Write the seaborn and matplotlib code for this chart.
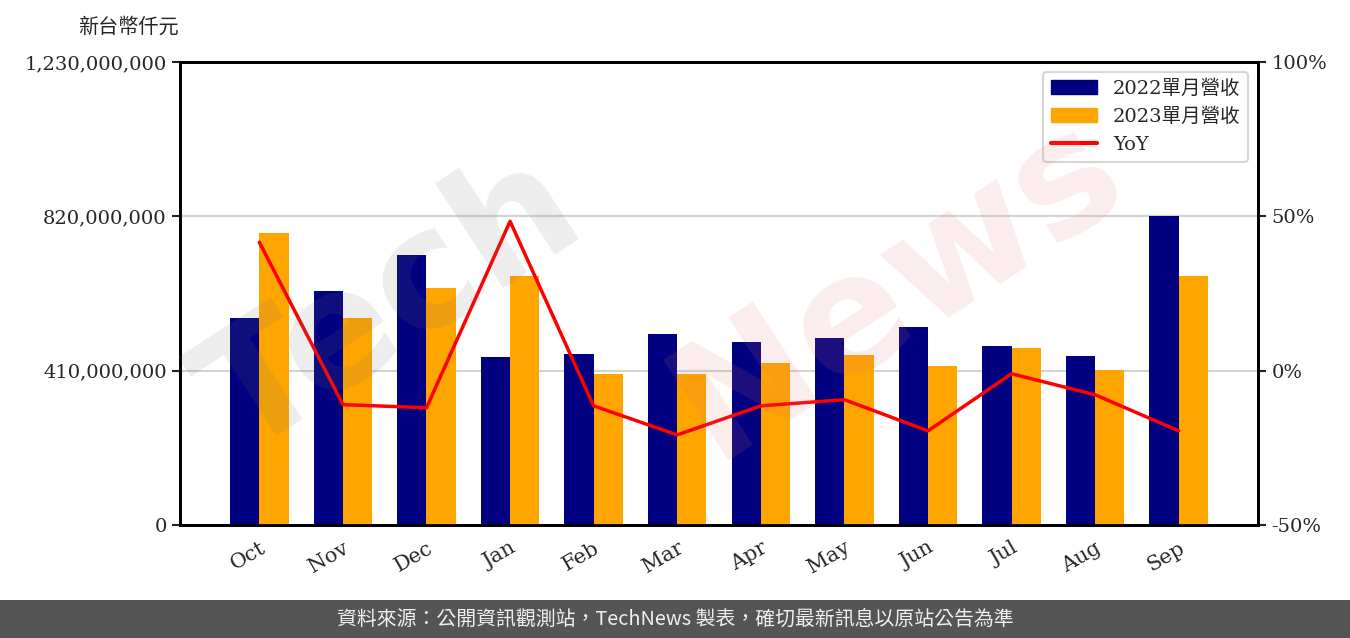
import numpy as np
import pandas as pd
import matplotlib
matplotlib.use('Agg')
import matplotlib.pyplot as plt
import matplotlib.ticker as mticker
from matplotlib.patches import Patch, Rectangle
from matplotlib.lines import Line2D
import seaborn as sns

# Data
months = ['Oct', 'Nov', 'Dec', 'Jan', 'Feb', 'Mar', 'Apr', 'May', 'Jun', 'Jul', 'Aug', 'Sep']
rev_2022 = [550e6, 622e6, 717e6, 446e6, 454e6, 507e6, 486e6, 497e6, 526e6, 475e6, 449e6, 821e6]
rev_2023 = [776e6, 550e6, 630e6, 662e6, 401e6, 401e6, 430e6, 452e6, 422e6, 470e6, 412e6, 662e6]
yoy = [41.6, -11.0, -12.0, 48.4, -11.4, -20.8, -11.4, -9.4, -19.5, -1.0, -7.8, -19.5]
series_names = ['2022單月營收', '2023單月營收']
left_ticks = [0, 410e6, 820e6, 1230e6]
right_ticks = [-50, 0, 50, 100]

sns.set_style('white')
fonts = ['DejaVu Serif', 'Noto Sans CJK TC']
plt.rcParams['font.family'] = fonts

df = pd.DataFrame({
    'month': months * 2,
    'revenue': rev_2022 + rev_2023,
    'series': [series_names[0]] * 12 + [series_names[1]] * 12,
})

fig = plt.figure(figsize=(13.5, 6.38), dpi=100)
ax = fig.add_axes([0.1333, 0.1771, 0.7986, 0.7257])

sns.barplot(data=df, x='month', y='revenue', hue='series', order=months,
            palette=['#000080', '#FFA500'], saturation=1, width=0.7,
            linewidth=0, ax=ax, zorder=3)
ax.get_legend().remove()

ax.set_ylim(0, 1230e6)
ax.set_xlim(-0.95, 11.95)
ax.set_yticks(left_ticks)
ax.yaxis.set_major_formatter(mticker.FuncFormatter(lambda v, p: f'{int(v):,}'))
ax.yaxis.grid(True, color='#d3d3d3', lw=1.5, zorder=0)
ax.set_axisbelow(True)
ax.set_xlabel('')
ax.set_ylabel('')
for s in ax.spines.values():
    s.set_color('black')
    s.set_linewidth(2)
ax.tick_params(axis='both', labelsize=14, length=6, width=1.5, color='#222222')
ax.tick_params(axis='x', labelsize=15)
plt.setp(ax.get_xticklabels(), rotation=30, ha='right', rotation_mode='anchor')

ax2 = ax.twinx()
sns.lineplot(x=np.arange(len(months)), y=yoy, ax=ax2, color='red', lw=2.5)
ax2.set_ylim(-50, 100)
ax2.set_yticks(right_ticks)
ax2.yaxis.set_major_formatter(mticker.FuncFormatter(lambda v, p: f'{int(v)}%'))
ax2.tick_params(axis='y', labelsize=14, length=6, width=1.5, color='#222222')
for s in ax2.spines.values():
    s.set_color('black')
    s.set_linewidth(2)

handles = [Patch(color='#000080', label=series_names[0]),
           Patch(color='#FFA500', label=series_names[1]),
           Line2D([], [], color='red', lw=3, label='YoY')]
leg = ax2.legend(handles=handles, loc='upper right', fontsize=14, frameon=True,
                 edgecolor='#cccccc', fancybox=True, handlelength=2.4, borderpad=0.4)
leg.get_frame().set_linewidth(1.5)

# watermark
fig.text(0.29, 0.52, 'Tech', fontsize=118, fontweight='bold', color='#707070', alpha=0.13,
         rotation=33, ha='center', va='center', family='DejaVu Sans', zorder=10)
fig.text(0.665, 0.55, 'News', fontsize=118, fontweight='bold', color='#e07070', alpha=0.13,
         rotation=33, ha='center', va='center', family='DejaVu Sans', zorder=10)

fig.text(0.095, 0.958, '新台幣仟元', fontsize=14.5, ha='center', va='center',
         family=['Noto Sans CJK TC'])

# footer
fig.patches.append(Rectangle((0, 0), 1, 38 / 638, transform=fig.transFigure,
                             facecolor='#555555', edgecolor='none', zorder=0))
fig.text(0.5, 19 / 638, '資料來源：公開資訊觀測站，TechNews 製表，確切最新訊息以原站公告為準',
         fontsize=14.3, color='#f0f0f0', ha='center', va='center',
         family=['Noto Sans CJK TC', 'DejaVu Sans'])

fig.savefig('out.png', dpi=100)
